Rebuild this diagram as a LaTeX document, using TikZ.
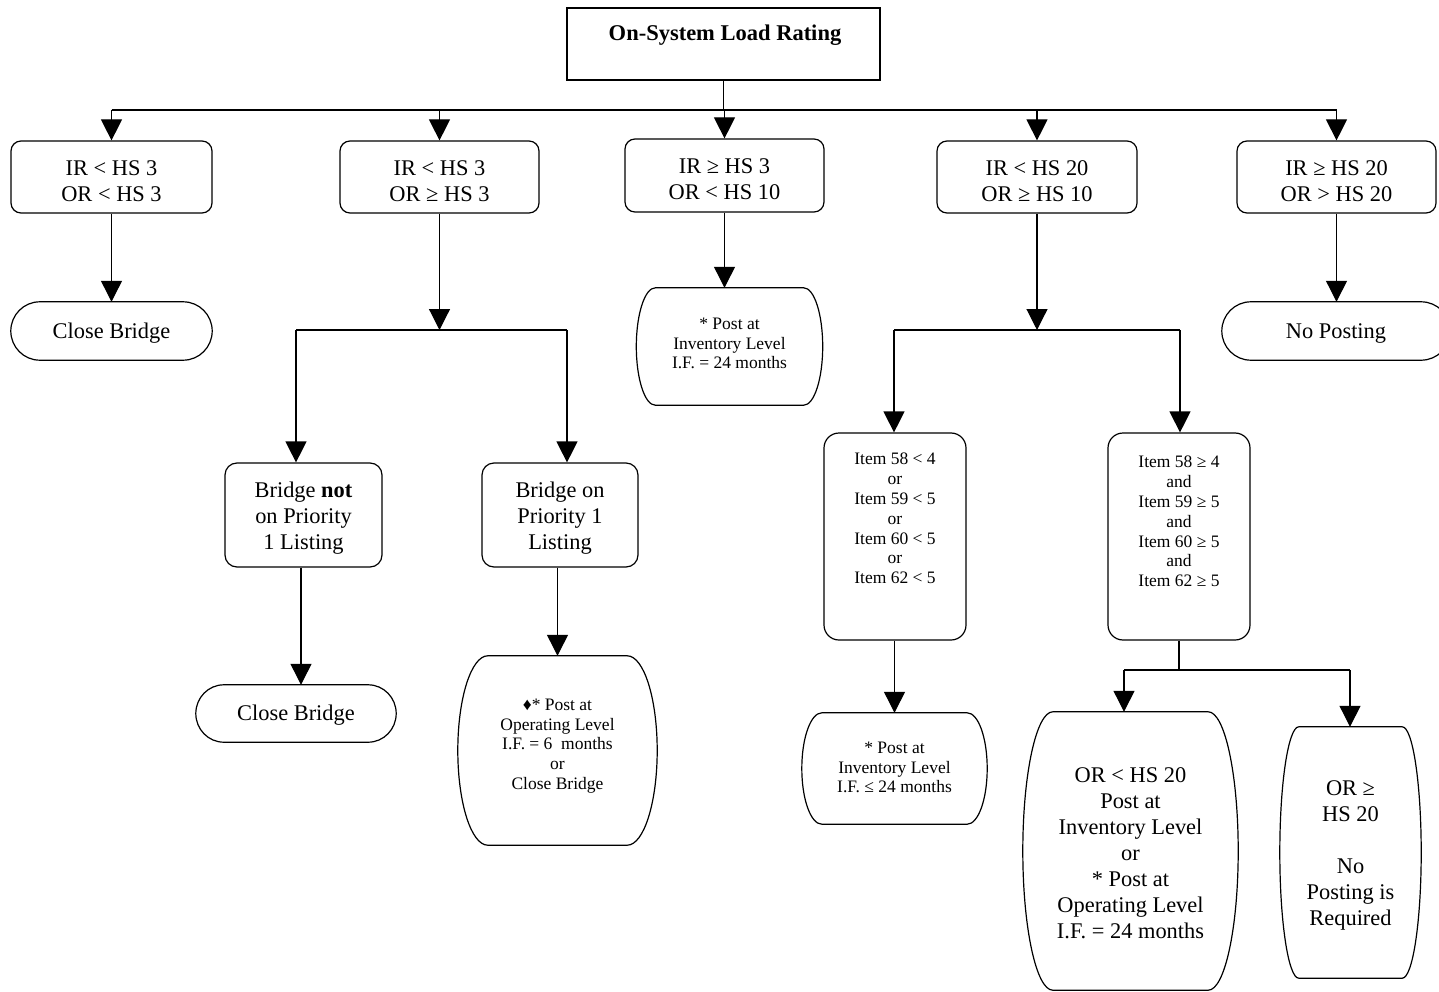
\documentclass[tikz,border=0pt]{standalone}
\usepackage{fontspec}
\setmainfont{Liberation Serif}
\usetikzlibrary{arrows.meta,calc}
\newcommand{\mainfs}{\fontsize{22.4}{26}\selectfont}
\newcommand{\smallfs}{\fontsize{17.5}{19.8}\selectfont}
% barrel / terminator outline around a named node; #2 = inset of the flat edges (pt)
\newcommand{\termoutline}[2]{%
 \draw[line width=1.2pt] ([xshift=#2pt]#1.north west) -- ([xshift=-#2pt]#1.north east)
   .. controls ([xshift=-0.448*#2pt]#1.north east) and ($(#1.east)!0.552!(#1.north east)$) .. (#1.east)
   .. controls ($(#1.east)!0.552!(#1.south east)$) and ([xshift=-0.448*#2pt]#1.south east) .. ([xshift=-#2pt]#1.south east)
   -- ([xshift=#2pt]#1.south west)
   .. controls ([xshift=0.448*#2pt]#1.south west) and ($(#1.west)!0.552!(#1.south west)$) .. (#1.west)
   .. controls ($(#1.west)!0.552!(#1.north west)$) and ([xshift=0.448*#2pt]#1.north west) .. cycle;}
\tikzset{
 box/.style={draw, line width=1.2pt, rounded corners=10pt, inner sep=0pt},
 term/.style={inner sep=0pt},
 lbl/.style={inner sep=0pt, align=center, font=\mainfs},
 txt/.style={inner sep=0pt, align=center, font=\smallfs},
 conn/.style={line width=1.2pt},
 arr/.style={line width=1.2pt, -{Triangle[length=21pt,width=21pt]}},
}
\begin{document}
\begin{tikzpicture}[x=1pt,y=-1pt]
\useasboundingbox (0,0) rectangle (1439,992);
% title
\node[draw, line width=1.2pt, minimum width=313pt, minimum height=72pt, inner sep=0pt] (top) at (723.5,44) {};
\node[font=\bfseries\fontsize{22.5}{26}\selectfont, inner sep=0pt] (toptext) at (725,35) {On-System Load Rating};
% first row
\node[box, minimum width=201pt, minimum height=72pt] (a) at (111.5,177) {};
\node[box, minimum width=199pt, minimum height=72pt] (b) at (439.5,177) {};
\node[box, minimum width=199pt, minimum height=73pt] (c) at (724.5,175.5) {};
\node[box, minimum width=200pt, minimum height=72pt] (d) at (1037,177) {};
\node[box, minimum width=199pt, minimum height=72pt] (e) at (1336.5,177) {};
\node[lbl] (at) at ([yshift=-4pt]a.center) {IR < HS 3\\OR < HS 3};
\node[lbl] (bt) at ([yshift=-4pt]b.center) {IR < HS 3\\OR ≥ HS 3};
\node[lbl] (ct) at ([yshift=-4pt]c.center) {IR ≥ HS 3\\OR < HS 10};
\node[lbl] (dt) at ([yshift=-4pt]d.center) {IR < HS 20\\OR ≥ HS 10};
\node[lbl] (et) at ([yshift=-4pt]e.center) {IR ≥ HS 20\\OR > HS 20};
\coordinate (bus) at (724,110);
\draw[conn] (top.south) -- (top.south |- bus);
\draw[conn] (a.north |- bus) -- (e.north |- bus);
\foreach \n in {a,b,c,d,e} {\draw[arr] (\n.north |- bus) -- (\n.north);}
% branch A
\node[term, minimum width=201pt, minimum height=58pt] (ta) at (111.5,331) {};
\termoutline{ta}{29}
\node[lbl] (tat) at ([yshift=-2pt]ta.center) {Close Bridge};
\draw[arr] (a.south) -- (ta.north);
% branch B
\coordinate (jb) at (438,330);
\coordinate (jbl) at (296,330);
\coordinate (jbr) at (567,330);
\draw[arr] (b.south) -- (b.south |- jb);
\draw[conn] (jbl) -- (jbr);
\node[box, rounded corners=12pt, minimum width=157pt, minimum height=104pt] (bn) at (303.5,515) {};
\node[box, rounded corners=12pt, minimum width=156pt, minimum height=104pt] (bp) at (560,515) {};
\node[lbl] (bnt) at ([yshift=-3pt]bn.center) {Bridge \textbf{not}\\on Priority\\1 Listing};
\node[lbl] (bpt) at ([yshift=-3pt]bp.center) {Bridge on\\Priority 1\\Listing};
\draw[arr] (jbl) -- (jbl |- bn.north);
\draw[arr] (jbr) -- (jbr |- bp.north);
\node[term, minimum width=200pt, minimum height=57pt] (tb1) at (296,713.5) {};
\termoutline{tb1}{28}
\node[lbl] (tb1t) at ([yshift=-2pt]tb1.center) {Close Bridge};
\draw[arr] ([xshift=-2.5pt]bn.south) -- ([xshift=-2.5pt]bn.south |- tb1.north);
\node[term, minimum width=199pt, minimum height=189pt] (tb2) at (557.5,750.5) {};
\termoutline{tb2}{30}
\node[txt] (tb2t) at (557.5,746) {♦* Post at\\Operating Level\\I.F. = 6~~months\\or\\Close Bridge};
\draw[arr] (bp.south -| tb2.north) -- (tb2.north);
% branch C
\node[term, minimum width=186pt, minimum height=117pt] (tc) at (729.5,346.5) {};
\termoutline{tc}{19}
\node[txt] (tct) at ([yshift=3pt]tc.center) {* Post at\\Inventory Level\\I.F. = 24 months};
\draw[arr] (c.south) -- (c.south |- tc.north);
% branch D
\coordinate (jd) at (1037,330);
\coordinate (jdl) at (894,330);
\coordinate (jdr) at (1180,330);
\draw[arr] (d.south) -- (jd);
\draw[conn] (jdl) -- (jdr);
\node[box, rounded corners=15pt, minimum width=142pt, minimum height=207pt] (i1) at (895,536.5) {};
\node[box, rounded corners=15pt, minimum width=142pt, minimum height=207pt] (i2) at (1179,536.5) {};
\node[txt] (i1t) at (895,518.5) {Item 58 < 4\\or\\Item 59 < 5\\or\\Item 60 < 5\\or\\Item 62 < 5};
\node[txt] (i2t) at (1179,521.5) {Item 58 ≥ 4\\and\\Item 59 ≥ 5\\and\\Item 60 ≥ 5\\and\\Item 62 ≥ 5};
\draw[arr] (jdl) -- (jdl |- i1.north);
\draw[arr] (jdr) -- (jdr |- i2.north);
\node[term, minimum width=185pt, minimum height=111pt] (td1) at (894.5,768.5) {};
\termoutline{td1}{20}
\node[txt] (td1t) at ([yshift=1pt]td1.center) {* Post at\\Inventory Level\\I.F. ≤ 24 months};
\draw[arr] (i1.south -| td1.north) -- (td1.north);
\coordinate (j2) at (1179,670);
\coordinate (j2l) at (1124,670);
\coordinate (j2r) at (1350,670);
\draw[conn] (i2.south) -- (j2);
\draw[conn] (j2l) -- (j2r);
\node[term, minimum width=215pt, minimum height=278pt] (td2) at (1130.5,851) {};
\termoutline{td2}{30}
\node[lbl] (td2t) at ([yshift=-2pt]td2.center) {OR < HS 20\\Post at\\Inventory Level\\or\\* Post at\\Operating Level\\I.F. = 24 months};
\node[term, minimum width=141pt, minimum height=251pt] (td3) at (1350.5,852.5) {};
\termoutline{td3}{19}
\node[lbl] (td3t) at ([yshift=-3pt]td3.center) {OR ≥\\HS 20\\[26pt]No\\Posting is\\Required};
\draw[arr] (j2l) -- (j2l |- td2.north);
\draw[arr] (j2r) -- (j2r |- td3.north);
% branch E
\node[term, minimum width=228pt, minimum height=58pt] (te) at (1336,331) {};
\termoutline{te}{29}
\node[lbl] (tet) at ([yshift=-2.5pt]te.center) {No Posting};
\draw[arr] (e.south) -- (e.south |- te.north);
\end{tikzpicture}
\end{document}
